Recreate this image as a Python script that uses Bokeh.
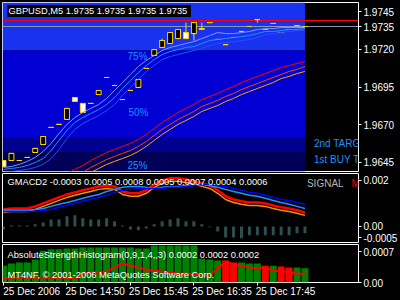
import numpy as np
from bokeh.plotting import figure
from bokeh.layouts import column
from bokeh.models import Range1d, FixedTicker, Label, PrintfTickFormatter, LinearAxis
from bokeh.core.properties import value
from bokeh.embed import file_html
from bokeh.resources import INLINE

NaN = float("nan")

# ---------------- data ----------------
symbol = "GBPUSD,M5"
quote = [1.9735, 1.9735, 1.9735, 1.9735]
bid = 1.9735
ask = 1.9739
price_ticks = [1.9645, 1.9670, 1.9695, 1.9720, 1.9745]

time_ticks = [0, 8, 16, 24, 32]
time_labels = ["25 Dec 2006", "25 Dec 14:50", "25 Dec 15:45", "25 Dec 16:35", "25 Dec 17:45"]

open_ = [1.96423, 1.96510, 1.96463, 1.96483, 1.96543, 1.96622, 1.96682, 1.96702, 1.96808, 1.96854,
         1.96781, 1.96841, 1.96927, 1.97013, 1.96960, 1.96867, 1.96927, 1.97000, 1.97073, 1.97198,
         1.97258, 1.97311, 1.97331, 1.97271, 1.97377, 1.97337, 1.97377, 1.97265, 1.97231, 1.97278,
         1.97318, 1.97351, 1.97397, 1.97331, 1.97371, 1.97311, 1.97331, 1.97357, 1.97351]
high = [1.96463, 1.96510, 1.96463, 1.96483, 1.96543, 1.96622, 1.96682, 1.96702, 1.96808, 1.96880,
        1.96841, 1.96841, 1.96927, 1.97013, 1.96960, 1.96867, 1.96927, 1.97000, 1.97073, 1.97198,
        1.97271, 1.97311, 1.97331, 1.97377, 1.97377, 1.97377, 1.97377, 1.97265, 1.97231, 1.97278,
        1.97318, 1.97351, 1.97397, 1.97331, 1.97371, 1.97311, 1.97331, 1.97357, 1.97351]
low = [1.96423, 1.96463, 1.96463, 1.96483, 1.96516, 1.96569, 1.96682, 1.96702, 1.96735, 1.96854,
       1.96781, 1.96841, 1.96900, 1.97013, 1.96960, 1.96867, 1.96927, 1.96947, 1.97073, 1.97159,
       1.97212, 1.97238, 1.97271, 1.97271, 1.97258, 1.97331, 1.97377, 1.97265, 1.97231, 1.97278,
       1.97318, 1.97351, 1.97377, 1.97331, 1.97371, 1.97311, 1.97331, 1.97357, 1.97351]
close = [1.96463, 1.96463, 1.96463, 1.96483, 1.96516, 1.96569, 1.96682, 1.96702, 1.96735, 1.96880,
         1.96841, 1.96841, 1.96900, 1.97013, 1.96960, 1.96867, 1.96927, 1.96947, 1.97073, 1.97159,
         1.97212, 1.97238, 1.97271, 1.97311, 1.97304, 1.97331, 1.97377, 1.97265, 1.97231, 1.97278,
         1.97318, 1.97351, 1.97397, 1.97331, 1.97371, 1.97311, 1.97331, 1.97357, 1.97351]

band_upper = [1.96417, 1.96423, 1.96437, 1.96457, 1.96483, 1.96523, 1.96576, 1.96642, 1.96702, 1.96748,
              1.96781, 1.96808, 1.96834, 1.96874, 1.96927, 1.96980, 1.97033, 1.97086, 1.97126, 1.97159,
              1.97192, 1.97212, 1.97225, 1.97238, 1.97251, 1.97271, 1.97291, 1.97311, 1.97304, 1.97304,
              1.97311, 1.97318, 1.97331, 1.97337, 1.97337, 1.97344, 1.97344, 1.97344, 1.97344]
band_mid = [1.96404, 1.96410, 1.96417, 1.96430, 1.96450, 1.96476, 1.96529, 1.96596, 1.96662, 1.96715,
            1.96748, 1.96774, 1.96801, 1.96834, 1.96880, 1.96940, 1.96993, 1.97046, 1.97092, 1.97132,
            1.97165, 1.97185, 1.97198, 1.97212, 1.97218, 1.97238, 1.97258, 1.97265, 1.97271, 1.97278,
            1.97284, 1.97291, 1.97304, 1.97318, 1.97318, 1.97324, 1.97331, 1.97331, 1.97337]
band_lower = [1.96384, 1.96390, 1.96397, 1.96404, 1.96417, 1.96437, 1.96476, 1.96536, 1.96609, 1.96669,
              1.96708, 1.96735, 1.96761, 1.96794, 1.96834, 1.96894, 1.96947, 1.97000, 1.97053, 1.97092,
              1.97132, 1.97152, 1.97165, 1.97179, 1.97192, 1.97205, 1.97225, 1.97238, 1.97245, 1.97251,
              1.97258, 1.97265, 1.97278, 1.97298, 1.97304, 1.97311, 1.97318, 1.97324, 1.97324]

trend_red = [NaN] * 8 + [1.96377, 1.96404, 1.96430, 1.96463, 1.96490, 1.96516, 1.96536, 1.96556,
                         1.96576, 1.96602, 1.96635, 1.96675, 1.96715, 1.96748, 1.96781, 1.96808,
                         1.96834, 1.96867, 1.96887, 1.96907, 1.96933, 1.96953, 1.96980, 1.97000,
                         1.97020, 1.97039, 1.97059, 1.97079, 1.97092, 1.97106, 1.97119]
trend_red2 = [NaN] * 10 + [1.96384, 1.96417, 1.96443, 1.96470, 1.96490, 1.96510, 1.96529, 1.96556,
                           1.96589, 1.96629, 1.96669, 1.96702, 1.96735, 1.96761, 1.96788, 1.96821,
                           1.96841, 1.96861, 1.96887, 1.96907, 1.96933, 1.96953, 1.96973, 1.96993,
                           1.97013, 1.97033, 1.97053, 1.97066, 1.97086]
trend_orange = [NaN] * 11 + [1.96384, 1.96410, 1.96437, 1.96457, 1.96476, 1.96496, 1.96523, 1.96556,
                             1.96596, 1.96635, 1.96669, 1.96702, 1.96728, 1.96755, 1.96788, 1.96808,
                             1.96827, 1.96854, 1.96874, 1.96900, 1.96920, 1.96940, 1.96960, 1.96980,
                             1.97006, 1.97020, 1.97039, 1.97053]

zone_levels = [1.97192, 1.96616, 1.96516]
zone_texts = ["75%", "50%", "25%"]
zone_text_prices = [1.97152, 1.96781, 1.96430]
target_texts = ["2nd TARGET", "1st BUY TARGET"]
target_prices = [1.96576, 1.96470]

macd_header = [-0.0003, 0.0005, 0.0008, 0.0005, 0.0007, 0.0004, 0.0006]
macd_hist = [-0.00013, 0.00004, 0.00004, 0.00004, 0.00009, 0.00017, 0.00030, 0.00030, 0.00044, 0.00048,
             0.00035, 0.00030, 0.00030, 0.00035, 0.00022, 0.00004, -0.00013, -0.00017, -0.00009, 0.00009,
             0.00022, 0.00030, 0.00035, 0.00022, 0.00022, 0.00009, -0.00004, -0.00022, -0.00048, -0.00048,
             -0.00052, -0.00039, -0.00039, -0.00039, -0.00039, -0.00039, -0.00039, -0.00030, -0.00030]
macd_red = [0.00074, 0.00078, 0.00078, 0.00078, 0.00087, 0.00100, 0.00113, 0.00126, 0.00139, 0.00148,
            0.00157, 0.00165, 0.00174, 0.00178, 0.00174, 0.00152, 0.00144, 0.00144, 0.00157, 0.00183,
            0.00200, 0.00209, 0.00209, 0.00204, 0.00196, 0.00187, 0.00178, 0.00157, 0.00131, 0.00117,
            0.00109, 0.00104, 0.00104, 0.00100, 0.00091, 0.00083, 0.00078, 0.00070, 0.00061]
macd_orange = [0.00061, 0.00065, 0.00065, 0.00065, 0.00074, 0.00087, 0.00100, 0.00113, 0.00126, 0.00135,
               0.00144, 0.00152, 0.00161, 0.00165, 0.00161, 0.00139, 0.00131, 0.00131, 0.00144, 0.00170,
               0.00187, 0.00196, 0.00196, 0.00191, 0.00183, 0.00174, 0.00165, 0.00144, 0.00117, 0.00104,
               0.00096, 0.00091, 0.00091, 0.00087, 0.00078, 0.00070, 0.00065, 0.00057, 0.00048]
macd_signal_light = [0.00070, 0.00070, 0.00070, 0.00070, 0.00074, 0.00078, 0.00087, 0.00096, 0.00104, 0.00113,
                     0.00122, 0.00131, 0.00139, 0.00152, 0.00161, 0.00170, 0.00174, 0.00174, 0.00170, 0.00165,
                     0.00170, 0.00174, 0.00174, 0.00178, 0.00178, 0.00183, 0.00178, 0.00170, 0.00161, 0.00152,
                     0.00144, 0.00135, 0.00131, 0.00122, 0.00113, 0.00104, 0.00096, 0.00087, 0.00078]
macd_signal_blue = [0.00065, 0.00065, 0.00065, 0.00065, 0.00065, 0.00070, 0.00074, 0.00083, 0.00091, 0.00100,
                    0.00109, 0.00117, 0.00126, 0.00135, 0.00148, 0.00157, 0.00161, 0.00165, 0.00165, 0.00165,
                    0.00165, 0.00170, 0.00170, 0.00174, 0.00178, 0.00183, 0.00183, 0.00178, 0.00174, 0.00165,
                    0.00157, 0.00148, 0.00144, 0.00135, 0.00126, 0.00117, 0.00113, 0.00104, 0.00096]

ash_header = [0.0002, 0.0002, 0.0002]
ash_hist = [0.00038, 0.00043, 0.00045, 0.00045, 0.00052, 0.00072, 0.00075, 0.00075, 0.00077, 0.00077,
            0.00079, 0.00079, 0.00079, 0.00079, 0.00079, 0.00079, 0.00079, 0.00077, 0.00077, 0.00084,
            0.00084, 0.00084, 0.00084, 0.00084, 0.00084, 0.00054, 0.00052, 0.00050, 0.00050, 0.00045,
            0.00045, 0.00043, 0.00043, 0.00038, 0.00038, 0.00036, 0.00034, 0.00034, 0.00032]
ash_bear = [0] * 28 + [1, 1, 0, 0, 0, 1, 0, 1, 1, 0, 0]
ash_signal = [0.00009, 0.00011, 0.00011, 0.00011, 0.00011, 0.00011, 0.00011, 0.00011, 0.00011, 0.00009,
              0.00020, 0.00023, 0.00023, 0.00025, 0.00034, 0.00043, 0.00038, 0.00034, 0.00029, 0.00027,
              0.00025, 0.00023, 0.00020, 0.00020, 0.00018, 0.00016, 0.00016, 0.00032, 0.00047, 0.00041,
              0.00038, 0.00034, 0.00032, 0.00034, 0.00027, 0.00025, 0.00023, 0.00020, 0.00020]

# ---------------- styling ----------------
FONT = "Liberation Sans"
YEL = "#FFD200"
idx = list(range(len(open_)))
x_range = Range1d(-0.125, 44.75)


def make_fig(height, y_range, top, bottom, xloc=None):
    p = figure(width=400, height=height, x_range=x_range, y_range=y_range,
               output_backend="svg", toolbar_location=None,
               x_axis_location=xloc, y_axis_location="right",
               min_border_left=2, min_border_right=39,
               min_border_top=top, min_border_bottom=bottom)
    p.background_fill_color = "black"
    p.border_fill_color = "black"
    p.outline_line_color = "white"
    p.grid.visible = False
    for ax in p.yaxis:
        ax.axis_line_color = None
        ax.major_tick_line_color = "white"
        ax.major_tick_out = 3
        ax.major_tick_in = 0
        ax.minor_tick_line_color = None
        ax.major_label_text_color = "white"
        ax.major_label_text_font = FONT
        ax.major_label_text_font_size = "10px"
        ax.major_label_standoff = 2
    return p


def header(p, x, y, text, color="white", bg=None, size="9.3px"):
    lab = Label(x=x, y=y, text=text, text_color=color, text_font=FONT,
                text_font_size=size, text_baseline="middle", text_align="left")
    if bg is not None:
        lab.background_fill_color = bg
        lab.padding = 1
    p.add_layout(lab)


# ---------------- main price pane ----------------
p1 = make_fig(172, Range1d(1.96390, 1.97510), 2, 1)
p1.yaxis.ticker = FixedTicker(ticks=price_ticks + [bid])
p1.yaxis.formatter = PrintfTickFormatter(format="%.4f")

y0, y1 = p1.y_range.start, p1.y_range.end
tops = [y1] + zone_levels
bottoms = zone_levels + [y0]
p1.quad(left=x_range.start, right=idx[-1], top=tops, bottom=bottoms,
        fill_color=["#1832F0", "#0000D2", "#000090", "#000058"], line_color=None)

p1.hspan(y=[ask], line_color="#FF0000", line_width=1)
p1.hspan(y=[bid], line_color="#8A98A8", line_width=1)

body_top = [max(o, c) for o, c in zip(open_, close)]
body_bot = [min(o, c) for o, c in zip(open_, close)]
body_fill = ["white" if c > o else "black" for o, c in zip(open_, close)]
half = 0.3125
p1.segment(x0=idx, y0=high, x1=idx, y1=low, line_color=YEL, line_width=1)
p1.vbar(x=idx, top=body_top, bottom=body_bot, width=2 * half,
        fill_color=body_fill, line_color=YEL, line_width=1)
p1.segment(x0=[i - half for i in idx], y0=open_, x1=[i + half for i in idx], y1=open_,
           line_color=YEL, line_width=1)
p1.segment(x0=[i - half for i in idx], y0=close, x1=[i + half for i in idx], y1=close,
           line_color=YEL, line_width=1)

p1.line(idx, np.array(trend_orange), line_color="#FFA500", line_width=1)
p1.line(idx, np.array(trend_red2), line_color="#FF4000", line_width=1)
p1.line(idx, np.array(trend_red), line_color="#FF0000", line_width=1)
p1.line(idx, band_lower, line_color="#2A4BFF", line_width=1)
p1.line(idx, band_mid, line_color="#1E90FF", line_width=1)
p1.line(idx, band_upper, line_color="#7E96FF", line_width=1)

p1.text(x=[15.625, 15.75, 15.625], y=zone_text_prices, text=zone_texts,
        text_font=value(FONT), text_font_size="10px", text_color="#1E90FF",
        text_baseline="middle", text_align="left")
p1.text(x=[39.125, 39.125], y=target_prices, text=target_texts,
        text_font=value(FONT), text_font_size="10px", text_color="#1E90FF",
        text_baseline="middle", text_align="left")

header(p1, 0.5, 1.97453, symbol + "  " + " ".join(f"{q:.4f}" for q in quote), bg="black")

# ---------------- GMACD2 pane ----------------
p2 = make_fig(71, Range1d(-0.0007, 0.0023), 1, 1)
p2.yaxis.ticker = FixedTicker(ticks=[-0.0005, 0.0, 0.002])
p2.yaxis.major_label_overrides = {-0.0005: "-0.0005", 0.0: "0.00", 0.002: "0.002"}
p2.vbar(x=idx, top=macd_hist, bottom=0, width=0.375, fill_color="#2F4F4F", line_color=None)
p2.line(idx, macd_orange, line_color="#FF8C00", line_width=1.5)
p2.line(idx, macd_red, line_color="#FF0000", line_width=2.5)
p2.line(idx, macd_signal_light, line_color="#1E90FF", line_width=1.5)
p2.line(idx, macd_signal_blue, line_color="#0000FF", line_width=1.5)
header(p2, 0.5, 0.00191, "GMACD2 " + " ".join(f"{v:.4f}" for v in macd_header))
p2.text(x=[38.25], y=[0.00187], text=["SIGNAL"], text_font=value(FONT),
        text_font_size="10px", text_color="#B4B4B4", text_baseline="middle", text_align="left")
p2.text(x=[43.875], y=[0.00187], text=["MACD"], text_font=value(FONT),
        text_font_size="10px", text_color="#FF0000", text_baseline="middle", text_align="left")

# ---------------- Absolute Strength Histogram pane ----------------
p3 = make_fig(57, Range1d(0, 0.00086), 1, 18, xloc="below")
p3.yaxis.ticker = FixedTicker(ticks=[0.0, 0.0007])
p3.yaxis.major_label_overrides = {0.0: "0.00", 0.0007: "0.0007"}

# axis 1: tick marks at the labelled bars
xa = p3.xaxis[0]
xa.ticker = FixedTicker(ticks=time_ticks)
xa.major_label_overrides = {t: "" for t in time_ticks}
xa.major_label_text_font_size = "1px"
xa.major_label_standoff = 0
xa.axis_line_color = None
xa.major_tick_line_color = "white"
xa.major_tick_out = 3
xa.major_tick_in = 0
xa.minor_tick_line_color = None

# axis 2: the time labels, drawn to the right of each tick mark (as MT4 does)
label_shift = 3.55
label_pos = [t + label_shift for t in time_ticks]
xb = LinearAxis(ticker=FixedTicker(ticks=label_pos),
                major_label_overrides={pos: s for pos, s in zip(label_pos, time_labels)})
xb.axis_line_color = None
xb.major_tick_line_color = None
xb.major_tick_out = 0
xb.major_tick_in = 0
xb.minor_tick_line_color = None
xb.major_label_standoff = 0
xb.major_label_text_color = "white"
xb.major_label_text_font = FONT
xb.major_label_text_font_size = "10px"
p3.add_layout(xb, "below")

ash_colors = ["#FF0000" if b else "#008000" for b in ash_bear]
p3.vbar(x=idx, top=ash_hist, bottom=0, width=0.875, fill_color=ash_colors, line_color=None)
p3.line(idx, ash_signal, line_color="#FF0000", line_width=2)
header(p3, 0.5, 0.00063, "AbsoluteStrengthHistogram(0,9,1,4,,3) " + " ".join(f"{v:.4f}" for v in ash_header))
header(p3, 0.5, 0.00018, "MT4NF, \u00a9 2001-2006 MetaQuotes Software Corp.")

layout = column(p1, p2, p3, spacing=0)
layout.styles = {"background-color": "black"}

with open("out.html", "w") as f:
    f.write(file_html(layout, INLINE))
